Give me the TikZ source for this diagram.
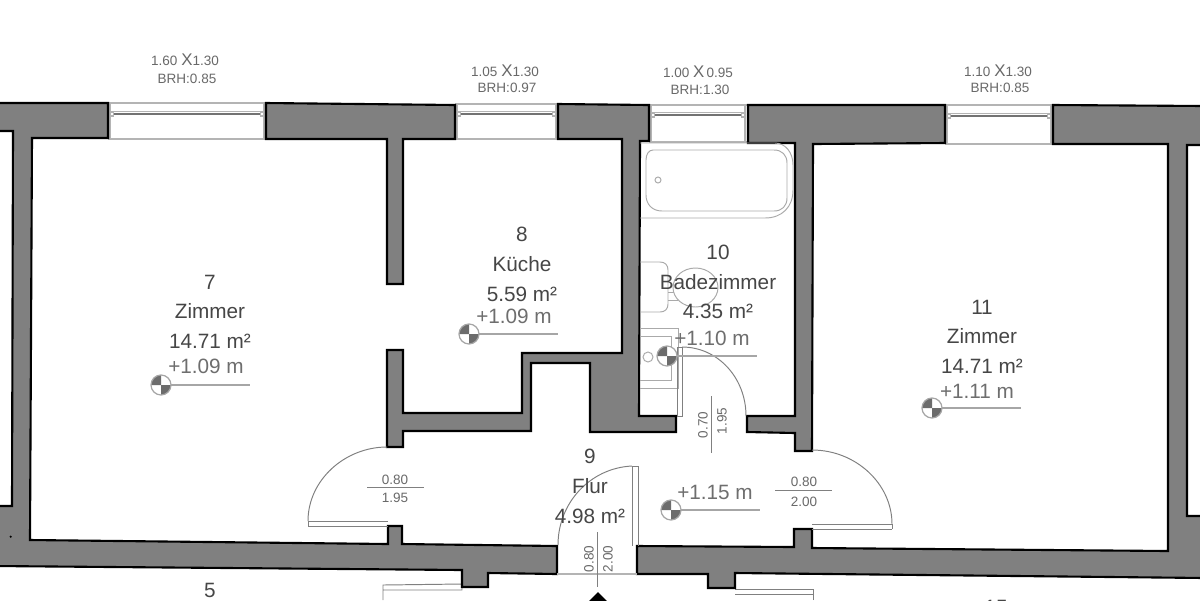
\documentclass[tikz,border=0pt]{standalone}
\usepackage{fontspec}
\setmainfont{Liberation Sans}
\definecolor{wallgray}{RGB}{128,128,128}
\definecolor{roomtxt}{RGB}{70,70,70}
\definecolor{leveltxt}{RGB}{110,110,110}
\definecolor{dimtxt}{RGB}{105,105,105}
\definecolor{thin}{RGB}{180,180,180}
\definecolor{fixture}{RGB}{170,170,170}
\newcommand{\bigX}{{\fontsize{9.6pt}{9pt}\selectfont X}}
\tikzset{
  x=0.02cm,y=-0.02cm,
  wall/.style={fill=wallgray,draw=black,line width=1.2pt,line join=miter},
  fix/.style={draw=fixture,line width=0.55pt},
  thinline/.style={draw=thin,line width=0.6pt},
  doorline/.style={draw=gray,line width=0.55pt},
  windowglass/.style={draw=gray!90!black,line width=1.5pt},
  roomtext/.style={text=roomtxt,font=\fontsize{11.8pt}{13pt}\selectfont,inner sep=0pt},
  leveltext/.style={text=leveltxt,font=\fontsize{11.8pt}{13pt}\selectfont,inner sep=0pt},
  dimtext/.style={text=dimtxt,font=\fontsize{7.7pt}{9pt}\selectfont,inner sep=0pt},
  leveline/.style={draw=gray!70,line width=0.7pt},
}
\begin{document}
\begin{tikzpicture}
\useasboundingbox (0,0) rectangle (1200,600);
\clip (0,0) rectangle (1200,600);
\fill[white] (0,0) rectangle (1200,600);

% windows
\foreach \l/\r/\t/\b/\g in {108/266/103/139/114,455/558/104/139/114,649/747/105/142/115,945/1053/105/144/116}{
  \draw[thinline] (\l,\t) -- (\r,\t) (\l,\b) -- (\r,\b) (\l+2,\t) -- (\l+2,\b) (\r-2,\t) -- (\r-2,\b);
  \draw[windowglass] (\l+5,\g) -- (\r-5,\g);
  \draw[thinline,line width=0.35pt] (\l+5,\g-2.5) -- (\r-5,\g-2.5);
  \draw[thinline,fill=white] (\l+2,\g-2) rectangle (\l+5.5,\g+2);
  \draw[thinline,fill=white] (\r-5.5,\g-2) rectangle (\r-2,\g+2);
}

% lower door leaves (next flat)
\draw[doorline] (383,600) -- (383,585) -- (462,584) -- (462,590) -- (383,590);
\draw[doorline] (813,600) -- (813,589) -- (735,589) (735,594) -- (813,594);

% walls
\draw[wall] (-5,103) -- (108,103) -- (108,138) -- (32,138) -- (30,540) -- (388,544) -- (388,526) -- (402,526) -- (402,544) -- (557,546) -- (557,574) -- (488,573) -- (488,587) -- (462,587) -- (462,570) -- (-5,566) -- (-5,506) -- (12,506) -- (13,131) -- (-5,131) -- cycle;
\draw[wall] (266,103) -- (455,105) -- (455,139) -- (403,139) -- (403,284) -- (387,284) -- (387,139) -- (266,139) -- cycle;
\draw[wall] (558,104) -- (649,105) -- (649,141) -- (640,141) -- (639,416) -- (676,416) -- (676,432) -- (590,432) -- (590,363) -- (531,363) -- (531,431) -- (403,431) -- (403,447) -- (387,447) -- (387,350) -- (403,350) -- (403,413) -- (522,413) -- (522,353) -- (622,353) -- (622,139) -- (558,139) -- cycle;
\draw[wall] (748,105) -- (945,105) -- (945,143) -- (813,144) -- (812,451) -- (795,451) -- (795,433) -- (747,432) -- (747,416) -- (795,416) -- (795,143) -- (748,143) -- cycle;
\draw[wall] (1053,105) -- (1205,106) -- (1205,145) -- (1187,145) -- (1187,516) -- (1205,516) -- (1205,578) -- (735,573) -- (735,588) -- (708,588) -- (708,574) -- (637,574) -- (637,546) -- (794,547) -- (794,529) -- (812,529) -- (812,548) -- (1168,551) -- (1168,144) -- (1053,144) -- cycle;
\fill[black] (10.7,536.7) circle[radius=1.2];

% bathtub
\draw[fix] (653,150) -- (774,150) .. controls (782,150) and (787,155) .. (787,163) -- (787,198) .. controls (787,206) and (782,211) .. (774,211) -- (662,211) .. controls (652,211) and (646,204) .. (646,195) -- (646,160) .. controls (646,154) and (649,150) .. (653,150) -- cycle;
\draw[fix] (640,143) -- (775,143) .. controls (785,143) and (793,152) .. (793,165) -- (793,190) .. controls (793,207) and (782,218) .. (765,218) -- (640,218);
\draw[fix] (658,180) circle[radius=3];

% toilet
\draw[fix] (640,262) -- (660,262) .. controls (665,262) and (668,265) .. (668,270) -- (668,304) .. controls (668,309) and (665,312) .. (660,312) -- (640,312);
\draw[fix] (668,292) -- (674,292) (668,300) -- (678,300);
\draw[fix] (695.5,287.5) ellipse[x radius=22.5,y radius=19.5];

% sink
\draw[fix] (640,328) -- (678,328) -- (678,388) -- (640,388);
\draw[fix] (640,336) -- (671,336) -- (671,380) -- (640,380);
\draw[fix] (648,357) circle[radius=5];

% doors
\draw[doorline] (308,521) -- (388,521) (308,526) -- (388,526) (308,521) -- (308,526);
\draw[doorline] (308,521) .. controls (308,480) and (345,447) .. (387,447);
\draw[doorline] (632,466) -- (632,546) (638,466) -- (638,546) (632,466) -- (638,466);
\draw[doorline] (632,466) .. controls (590,468) and (558,503) .. (558,545);
\draw[doorline] (812,524) -- (892,524) (812,529) -- (892,529) (892,524) -- (892,529);
\draw[doorline] (812,450) .. controls (856,450) and (892,484) .. (892,524);
\draw[doorline] (677,347) -- (682,347) -- (682,416) -- (677,416) -- cycle;
\draw[doorline] (682,347) .. controls (718,347) and (746,378) .. (746,416);

% threshold and dimension lines
\draw[thinline] (557,574) -- (637,574);
\draw[doorline] (597,532) -- (597,587);
\draw[doorline] (367,487) -- (424,487);
\draw[doorline] (775,490) -- (832,490);
\draw[doorline] (711,396) -- (711,453);
\fill[black] (598,592) -- (610,604) -- (586,604) -- cycle;

% dimension labels
\node[dimtext] (d1a) at (395,480) {0.80};
\node[dimtext] (d1b) at (395,498) {1.95};
\node[dimtext] (d3a) at (804,482) {0.80};
\node[dimtext] (d3b) at (804,502) {2.00};
\node[dimtext,rotate=90] (d2a) at (589,559) {0.80};
\node[dimtext,rotate=90] (d2b) at (608,559) {2.00};
\node[dimtext,rotate=90] (d4a) at (703,425) {0.70};
\node[dimtext,rotate=90] (d4b) at (722,421) {1.95};

% level markers
\foreach \c/\d/\e in {161/385/250,469/334/558,667/356/757,932/408/1021,671/510/760}{
  \draw[leveline] (\c,\d) -- (\e,\d);
  \fill[white] (\c,\d) circle[radius=10];
  \fill[gray!85!black] (\c,\d) -- (\c-10,\d) arc[start angle=180,end angle=270,radius=10] -- cycle;
  \fill[gray!85!black] (\c,\d) -- (\c+10,\d) arc[start angle=0,end angle=90,radius=10] -- cycle;
  \draw[gray!70,line width=0.7pt] (\c,\d) circle[radius=10];
}
\node[leveltext] (l7) at (206,366) {+1.09 m};
\node[leveltext] (l8) at (514,316) {+1.09 m};
\node[leveltext] (l10) at (712,338) {+1.10 m};
\node[leveltext] (l11) at (977,391) {+1.11 m};
\node[leveltext] (l9) at (715,492) {+1.15 m};

% room labels
\node[roomtext] (r7a) at (210,282) {7};
\node[roomtext] (r7b) at (210,311) {Zimmer};
\node[roomtext] (r7c) at (210,341) {14.71 m²};
\node[roomtext] (r8a) at (522,234) {8};
\node[roomtext] (r8b) at (522,264) {Küche};
\node[roomtext] (r8c) at (522,294) {5.59 m²};
\node[roomtext] (r10a) at (718,252) {10};
\node[roomtext] (r10b) at (718,282) {Badezimmer};
\node[roomtext] (r10c) at (718,311) {4.35 m²};
\node[roomtext] (r11a) at (982,307) {11};
\node[roomtext] (r11b) at (982,336) {Zimmer};
\node[roomtext] (r11c) at (982,366) {14.71 m²};
\node[roomtext] (r9a) at (590,456) {9};
\node[roomtext] (r9b) at (590,486) {Flur};
\node[roomtext] (r9c) at (590,516) {4.98 m²};
\node[roomtext] (r5) at (210,590) {5};
\node[roomtext] (r15) at (996,607) {15};

% window labels
\node[dimtext] (w1a) at (185,60) {1.60 \bigX1.30};
\node[dimtext] (w1b) at (187,79) {BRH:0.85};
\node[dimtext] (w2a) at (505,71) {1.05 \bigX1.30};
\node[dimtext] (w2b) at (507,88) {BRH:0.97};
\node[dimtext] (w3a) at (698,72) {1.00 \bigX\,0.95};
\node[dimtext] (w3b) at (700,90) {BRH:1.30};
\node[dimtext] (w4a) at (998,71) {1.10 \bigX1.30};
\node[dimtext] (w4b) at (1000,88) {BRH:0.85};
\end{tikzpicture}
\end{document}
